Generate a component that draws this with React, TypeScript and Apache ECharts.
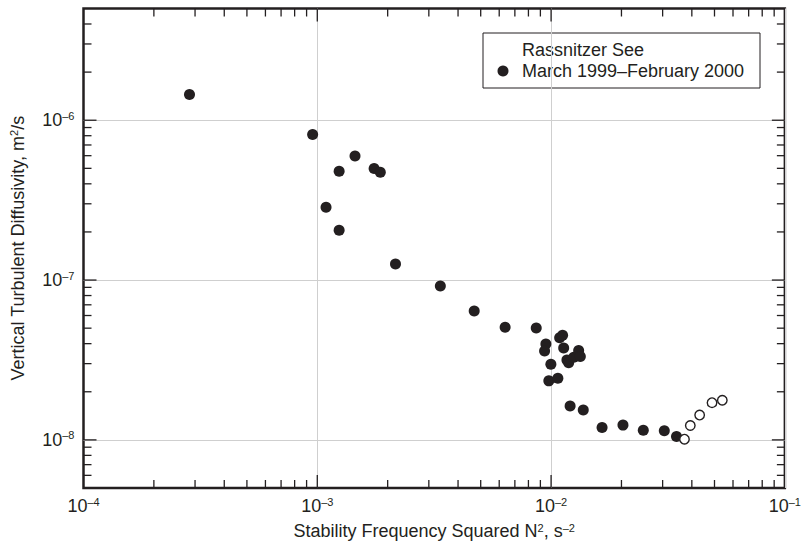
import React, { useEffect, useRef } from "react";
import * as echarts from "echarts";

// ---- data ----
const filledN2 = [
  2.84e-4, 9.55e-4, 1.45e-3, 1.24e-3, 1.75e-3, 1.86e-3, 1.09e-3, 1.24e-3, 2.16e-3,
  3.36e-3, 4.69e-3, 6.36e-3, 8.64e-3, 9.5e-3, 9.38e-3, 9.98e-3, 9.78e-3, 1.069e-2,
  1.088e-2, 1.12e-2, 1.132e-2, 1.169e-2, 1.189e-2, 1.25e-2, 1.312e-2, 1.334e-2,
  1.206e-2, 1.373e-2, 1.652e-2, 2.03e-2, 2.48e-2, 3.05e-2, 3.44e-2,
];
const filledK = [
  1.45e-6, 8.14e-7, 5.98e-7, 4.8e-7, 4.99e-7, 4.73e-7, 2.85e-7, 2.05e-7, 1.26e-7,
  9.17e-8, 6.4e-8, 5.06e-8, 5.01e-8, 3.98e-8, 3.6e-8, 2.97e-8, 2.34e-8, 2.43e-8,
  4.36e-8, 4.51e-8, 3.76e-8, 3.16e-8, 3.04e-8, 3.29e-8, 3.62e-8, 3.32e-8,
  1.63e-8, 1.54e-8, 1.197e-8, 1.237e-8, 1.15e-8, 1.14e-8, 1.05e-8,
];
const hollowN2 = [3.72e-2, 3.94e-2, 4.32e-2, 4.88e-2, 5.4e-2];
const hollowK = [1.01e-8, 1.23e-8, 1.43e-8, 1.71e-8, 1.77e-8];

const legendTitle = "Rassnitzer See";
const seriesName = "March 1999–February 2000";
const xAxisName = "Stability Frequency Squared N{sup|2}, s{sup|–2}";
const yAxisName = "Vertical Turbulent Diffusivity, m{sup|2}/s";

const xMin = 1e-4;
const xMax = 1e-1;
const yMin = 5e-9;
const yMax = 5e-6;
const xDecades = [-4, -3, -2];
const yDecades = [-9, -8, -7, -6];

const INK = "#231f20";
const FONT = "Liberation Sans, Arial, Helvetica, sans-serif";

function buildTicks() {
  const items: number[][] = [];
  for (const e of xDecades) {
    const base = Math.pow(10, e);
    for (let k = 1; k <= 9; k++) {
      const v = k * base;
      if (v <= xMin || v >= xMax) continue;
      items.push([v, 1e-7, k === 1 ? 0 : 1]);
    }
  }
  for (const e of yDecades) {
    const base = Math.pow(10, e);
    for (let k = 1; k <= 9; k++) {
      const v = k * base;
      if (v <= yMin * 1.0001 || v >= yMax * 0.9999) continue;
      items.push([1e-3, v, k === 1 ? 2 : 3]);
    }
  }
  return items;
}

function powLabel(v: number) {
  const e = Math.log10(v);
  const r = Math.round(e);
  if (Math.abs(e - r) > 1e-6) return "";
  return `{b|10}{s|–${Math.abs(r)}}`;
}

const labelRich = {
  b: { fontSize: 18, fontFamily: FONT, color: INK, lineHeight: 20 },
  s: { fontSize: 11, fontFamily: FONT, color: INK, lineHeight: 11, verticalAlign: "top" },
};

const nameRich = {
  sup: { fontSize: 11, fontFamily: FONT, color: INK, verticalAlign: "top", lineHeight: 11 },
};

export default function App() {
  const ref = useRef<HTMLDivElement>(null);
  useEffect(() => {
    if (!ref.current) return;
    const chart = echarts.init(ref.current, undefined, { renderer: "svg" });
    const filled = filledN2.map((x, i) => [x, filledK[i]]);
    const hollow = hollowN2.map((x, i) => [x, hollowK[i]]);
    const ticks = buildTicks();

    chart.setOption({
      animation: false,
      backgroundColor: "#ffffff",
      grid: {
        left: 83.5,
        top: 8.5,
        right: 18,
        bottom: 65,
        show: true,
        borderColor: INK,
        borderWidth: 2.5,
        backgroundColor: "transparent",
      },
      xAxis: {
        type: "log",
        logBase: 10,
        min: xMin,
        max: xMax,
        axisLine: { show: false },
        axisTick: { show: false },
        splitLine: {
          show: true,
          showMinLine: false,
          showMaxLine: false,
          lineStyle: { color: "#cfcfcf", width: 1 },
        },
        axisLabel: {
          margin: 8,
          fontSize: 18,
          fontFamily: FONT,
          color: INK,
          formatter: powLabel,
          rich: labelRich,
        },
        name: xAxisName,
        nameLocation: "middle",
        nameGap: 34,
        nameTextStyle: {
          fontSize: 18,
          fontFamily: FONT,
          color: INK,
          rich: nameRich,
        },
      },
      yAxis: {
        type: "log",
        logBase: 10,
        min: yMin,
        max: yMax,
        axisLine: { show: false },
        axisTick: { show: false },
        splitLine: {
          show: true,
          showMinLine: false,
          showMaxLine: false,
          lineStyle: { color: "#cfcfcf", width: 1 },
        },
        axisLabel: {
          margin: 9,
          fontSize: 18,
          fontFamily: FONT,
          color: INK,
          showMinLabel: false,
          showMaxLabel: false,
          formatter: powLabel,
          rich: labelRich,
        },
        name: yAxisName,
        nameLocation: "middle",
        nameGap: 57,
        nameTextStyle: {
          fontSize: 18,
          fontFamily: FONT,
          color: INK,
          rich: nameRich,
        },
      },
      series: [
        {
          type: "custom",
          silent: true,
          clip: false,
          z: 5,
          encode: { x: 0, y: 1 },
          data: ticks,
          renderItem: (params: any, api: any) => {
            const cs = params.coordSys;
            const kind = api.value(2);
            const p = api.coord([api.value(0), api.value(1)]);
            const style = { stroke: INK, lineWidth: 1.3 };
            if (kind < 2) {
              const len = kind === 0 ? 13 : 8;
              const yb = cs.y + cs.height;
              return {
                type: "group",
                children: [
                  { type: "line", shape: { x1: p[0], y1: yb, x2: p[0], y2: yb - len }, style },
                  { type: "line", shape: { x1: p[0], y1: cs.y, x2: p[0], y2: cs.y + len }, style },
                ],
              };
            }
            const len = kind === 2 ? 13 : 8;
            const xr = cs.x + cs.width;
            return {
              type: "group",
              children: [
                { type: "line", shape: { x1: cs.x, y1: p[1], x2: cs.x + len, y2: p[1] }, style },
                { type: "line", shape: { x1: xr, y1: p[1], x2: xr - len, y2: p[1] }, style },
              ],
            };
          },
        },
        {
          name: seriesName,
          type: "scatter",
          symbol: "circle",
          symbolSize: 11,
          itemStyle: { color: INK, opacity: 1 },
          data: filled,
          z: 3,
        },
        {
          name: "extrapolated",
          type: "scatter",
          symbol: "circle",
          symbolSize: 9.5,
          itemStyle: { color: "#ffffff", borderColor: INK, borderWidth: 1.4, opacity: 1 },
          data: hollow,
          z: 3,
        },
      ],
      graphic: [
        {
          type: "group",
          z: 100,
          children: [
            {
              type: "rect",
              shape: { x: 483, y: 33, width: 277, height: 55 },
              style: { fill: "#ffffff", stroke: INK, lineWidth: 1 },
            },
            {
              type: "text",
              x: 522,
              y: 50,
              style: { text: legendTitle, fontSize: 18, fontFamily: FONT, fill: INK, textVerticalAlign: "middle" },
            },
            {
              type: "circle",
              shape: { cx: 503, cy: 71, r: 5.5 },
              style: { fill: INK },
            },
            {
              type: "text",
              x: 522,
              y: 71,
              style: { text: seriesName, fontSize: 18, fontFamily: FONT, fill: INK, textVerticalAlign: "middle" },
            },
          ],
        },
      ],
    });
    return () => chart.dispose();
  }, []);
  return (
    <div
      ref={ref}
      style={{ position: "fixed", left: 0, top: 0, width: 804, height: 553, background: "#fff" }}
    />
  );
}
